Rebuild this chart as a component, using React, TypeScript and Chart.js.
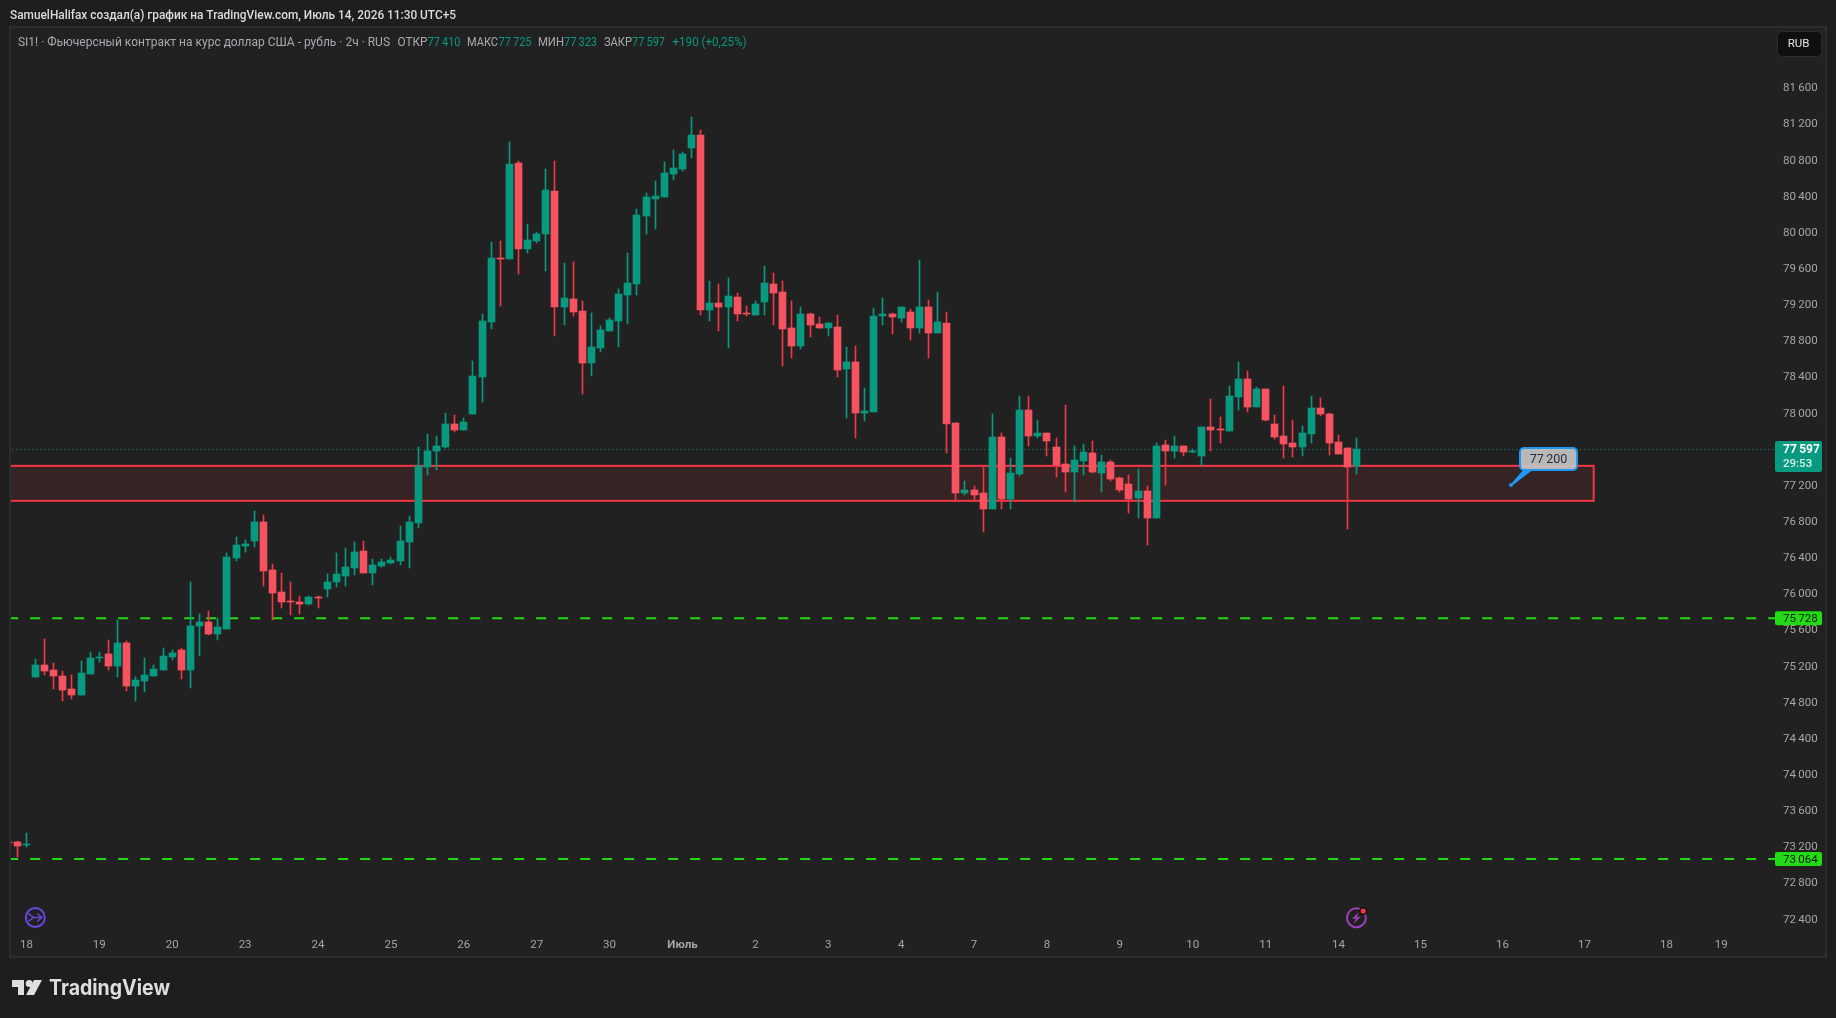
import React, { useEffect, useRef } from "react";
import { Chart, registerables } from "chart.js";

Chart.register(...registerables);

const opens = [73250,73252,73220,75078,75211,75155,75089,74945,74879,75111,75288,75332,75200,75454,74978,75034,75089,75155,75299,75377,75155,75642,75686,75554,75609,76395,76528,76583,76793,76262,76018,75919,75908,75886,75963,76052,76129,76196,76284,76472,76229,76306,76339,76362,76572,76782,77402,77579,77624,77878,77812,77989,78398,79007,79715,79704,80767,79815,79904,79981,80457,79173,79262,79129,78553,78719,78907,79018,79306,79428,80180,80368,80390,80645,80700,80933,81077,79140,79217,79173,79284,79107,79085,79229,79428,79339,78941,78742,79096,78985,78941,78952,78487,78564,78000,78011,79074,79096,79051,79118,78941,79173,78885,78996,77889,77115,77148,77115,76938,77734,77048,77325,78033,77746,77779,77624,77436,77347,77469,77557,77336,77458,77281,77214,77059,77137,76838,77646,77580,77635,77568,77524,77845,77823,77801,78177,78376,78067,78266,77878,77746,77668,77624,77768,78055,77989,77679,77613,77410];
const highs = [73252,73263,73348,75277,75498,75233,75144,75100,75255,75354,75354,75487,75709,75476,75078,75288,75211,75399,75377,75399,76129,75775,75808,75731,76450,76627,76594,76915,76871,76328,76229,76129,75974,75974,75974,76218,76450,76505,76572,76583,76384,76384,76406,76749,76860,77624,77768,77745,78000,77978,77945,78575,79096,79892,79904,80999,80789,80092,80003,80700,80789,79660,79671,79240,79107,78963,79051,79372,79771,80258,80435,80568,80778,80911,80889,81276,81132,79461,79428,79494,79328,79184,79240,79627,79549,79461,79240,79173,79107,79063,78996,79085,78730,78742,78277,79162,79273,79107,79173,79151,79693,79251,79339,79118,77889,77248,77192,77402,77989,77779,77502,78188,78188,77923,77779,77723,78089,77635,77657,77690,77535,77480,77292,77314,77380,77192,77668,77701,77746,77635,77602,77845,78155,77956,78299,78565,78465,78288,78266,77978,78299,77923,77856,78188,78166,78000,77757,77613,77725];
const lows = [73243,73090,73193,75078,75100,74945,74812,74834,74879,75111,75244,75155,75078,74923,74812,74912,75089,75155,75266,75056,74956,75310,75543,75487,75609,76362,76461,76517,76085,75709,75841,75764,75775,75875,75841,75963,76074,76085,76207,76229,76096,76295,76328,76317,76284,76727,77314,77369,77613,77790,77812,77989,78122,78930,79184,79704,79538,79771,79881,79572,78852,78974,79074,78210,78409,78675,78907,78730,78985,79306,79981,80036,80390,80579,80678,80822,79085,79018,78907,78719,79018,79074,79085,79085,78974,78520,78609,78708,78841,78941,78852,78398,77945,77723,77912,78011,78974,78874,79007,78808,78885,78609,78885,77557,77026,77093,77026,76683,76938,76938,76938,77303,77635,77723,77524,77292,77126,77015,77314,77336,77126,77248,77126,76893,76838,76539,76838,77203,77502,77524,77557,77425,77580,77668,77801,78033,78011,78067,77912,77712,77502,77513,77524,77668,77967,77535,77546,76716,77323];
const closes = [73245,73208,73226,75211,75144,75089,74934,74879,75122,75288,75299,75200,75454,74978,75045,75100,75166,75310,75343,75155,75642,75686,75554,75631,76406,76539,76550,76793,76251,76007,75908,75908,75886,75963,75952,76129,76218,76295,76461,76229,76317,76350,76373,76583,76793,77414,77579,77635,77878,77812,77900,78409,79018,79715,79704,80756,79815,79915,79981,80468,79173,79273,79118,78553,78730,78919,79029,79317,79439,80191,80390,80402,80656,80711,80866,81077,79140,79217,79173,79295,79096,79096,79206,79439,79328,78930,78742,79096,78974,78941,78996,78476,78564,78000,78022,79074,79096,79063,79173,78941,79173,78885,79007,77878,77115,77148,77093,76938,77734,77048,77336,78033,77746,77779,77690,77425,77347,77480,77568,77347,77458,77270,77148,77048,77137,76838,77635,77580,77635,77568,77580,77845,77812,77812,78188,78376,78067,78266,77923,77734,77657,77624,77779,78055,77989,77668,77546,77407,77597];

const yTickValues = [72400,72800,73200,73600,74000,74400,74800,75200,75600,76000,76400,76800,77200,77600,78000,78400,78800,79200,79600,80000,80400,80800,81200,81600];
const xTickLabels = ["18","19","20","23","24","25","26","27","30","Июль","2","3","4","7","8","9","10","11","14","15","16","17","18","19"];
const xTickIndexes = [2,10,18,26,34,42,50,58,66,74,82,90,98,106,114,122,130,138,146,155,164,173,182,188];

const lastPrice = 77597;
const supportLevels = [75728, 73064];
const zoneTop = 77415;
const zoneBottom = 77028;
const zoneEndIndex = 174;
const calloutPrice = 77200;

const GREEN = "#089981";
const RED = "#f7525f";
const WICK_RED = "#f23645";
const LEVEL = "#22dc13";
const FONT = "Roboto, sans-serif";

const fmt = (v: number) => {
  const s = String(v);
  return s.slice(0, s.length - 3) + "\u2009" + s.slice(-3);
};

const candleColors = (up: string, down: string) => closes.map((c, i) => (c >= opens[i] ? up : down));

const pagePlugin = {
  id: "page",
  beforeDraw(chart: any) {
    const { ctx, width, height } = chart;
    ctx.save();
    ctx.fillStyle = "#1e1e1e";
    ctx.fillRect(0, 0, width, height);
    ctx.fillStyle = "#212121";
    ctx.fillRect(10, 27, 1816, 930);
    ctx.strokeStyle = "#2c2c2c";
    ctx.lineWidth = 2;
    ctx.strokeRect(10, 27, 1816, 930);
    ctx.restore();
  },
};

const snapPlugin = {
  id: "snap",
  afterDatasetsUpdate(chart: any) {
    chart.data.datasets.forEach((d: any, di: number) => {
      if (d.type !== "bar") return;
      chart.getDatasetMeta(di).data.forEach((el: any) => {
        el.x = Math.floor(el.x) + 0.5;
        el.y = Math.round(el.y);
        el.base = Math.round(el.base);
      });
    });
  },
};

const zonePlugin = {
  id: "zone",
  beforeDatasetsDraw(chart: any) {
    const { ctx, chartArea, scales } = chart;
    const top = scales.y.getPixelForValue(zoneTop);
    const bottom = scales.y.getPixelForValue(zoneBottom);
    const right = scales.x.getPixelForValue(zoneEndIndex);
    ctx.save();
    ctx.beginPath();
    ctx.rect(chartArea.left, chartArea.top, chartArea.width, chartArea.height);
    ctx.clip();
    ctx.fillStyle = "rgba(242,54,69,0.1)";
    ctx.fillRect(chartArea.left - 4, top, right - chartArea.left + 4, bottom - top);
    ctx.strokeStyle = WICK_RED;
    ctx.lineWidth = 2;
    ctx.strokeRect(chartArea.left - 4, top, right - chartArea.left + 4, bottom - top);
    ctx.restore();
  },
};

function priceTag(ctx: any, y: number, text: string) {
  ctx.fillStyle = LEVEL;
  ctx.beginPath();
  ctx.roundRect(1775, y - 7, 47, 14, 2);
  ctx.fill();
  ctx.fillStyle = "#111111";
  ctx.font = `400 11.5px ${FONT}`;
  ctx.textAlign = "left";
  ctx.textBaseline = "middle";
  ctx.fillText(text, 1783, y + 1);
}

const overlayPlugin = {
  id: "overlay",
  afterDraw(chart: any) {
    const { ctx, scales } = chart;
    ctx.save();
    ctx.textBaseline = "middle";
    ctx.textAlign = "left";

    // header
    ctx.fillStyle = "#dcdcdc";
    ctx.font = `500 12px ${FONT}`;
    ctx.fillText("SamuelHalifax создал(а) график на TradingView.com, Июль 14, 2026 11:30 UTC+5", 10, 15.5, 446);

    // legend
    ctx.font = `400 12px ${FONT}`;
    const gray = "#a9abb2";
    const parts: [string, number, string, number][] = [
      ["SI1! · Фьючерсный контракт на курс доллар США - рубль · 2ч · RUS", 18, gray, 372],
      ["ОТКР", 397.5, gray, 30],
      ["77\u2009410", 427.5, GREEN, 33],
      ["МАКС", 467, gray, 31],
      ["77\u2009725", 498.5, GREEN, 33],
      ["МИН", 538, gray, 26],
      ["77\u2009323", 564, GREEN, 33],
      ["ЗАКР", 604, gray, 28],
      ["77\u2009597", 632, GREEN, 33],
      ["+190 (+0,25%)", 672.5, GREEN, 74],
    ];
    parts.forEach(([t, x, c, w]) => {
      ctx.fillStyle = c;
      ctx.fillText(t, x, 42.5, w);
    });

    // currency button
    ctx.fillStyle = "#0f0f0f";
    ctx.strokeStyle = "#2e2e2e";
    ctx.lineWidth = 1;
    ctx.beginPath();
    ctx.roundRect(1777.5, 31.5, 44, 25, 4);
    ctx.fill();
    ctx.stroke();
    ctx.fillStyle = "#e6e6e6";
    ctx.textAlign = "center";
    ctx.font = `400 11.5px ${FONT}`;
    ctx.fillText("RUB", 1798.5, 44.5);
    ctx.textAlign = "left";

    // last price tag
    const py = scales.y.getPixelForValue(lastPrice);
    ctx.fillStyle = GREEN;
    ctx.beginPath();
    ctx.roundRect(1775, py - 8.5, 47, 31, 2);
    ctx.fill();
    ctx.fillStyle = "#ffffff";
    ctx.font = `700 12px ${FONT}`;
    ctx.fillText(fmt(lastPrice), 1783, py + 1);
    ctx.fillStyle = "#d5efe9";
    ctx.font = `500 11.5px ${FONT}`;
    ctx.fillText("29:53", 1783, py + 14.5);

    supportLevels.forEach((v) => priceTag(ctx, scales.y.getPixelForValue(v), fmt(v)));

    // callout
    const boxL = 1520, boxT = 448, boxW = 57, boxH = 22;
    const tipX = 1511, tipY = 485;
    ctx.fillStyle = "#2196f3";
    ctx.beginPath();
    ctx.moveTo(boxL + 4, boxT + boxH - 1);
    ctx.lineTo(boxL + 14, boxT + boxH - 1);
    ctx.lineTo(tipX + 2, tipY);
    ctx.lineTo(tipX, tipY - 1);
    ctx.closePath();
    ctx.fill();
    ctx.beginPath();
    ctx.arc(tipX, tipY, 2, 0, Math.PI * 2);
    ctx.fill();
    ctx.fillStyle = "rgba(198,198,198,0.92)";
    ctx.strokeStyle = "#2196f3";
    ctx.lineWidth = 2;
    ctx.beginPath();
    ctx.roundRect(boxL, boxT, boxW, boxH, 4);
    ctx.fill();
    ctx.stroke();
    ctx.fillStyle = "#2a2e39";
    ctx.textAlign = "center";
    ctx.font = `400 12.5px ${FONT}`;
    ctx.fillText(fmt(calloutPrice), boxL + boxW / 2, boxT + boxH / 2 + 0.5);
    ctx.textAlign = "left";

    // event marks
    const ix = 35.3, iy = 917.5;
    ctx.strokeStyle = "#6a45e0";
    ctx.lineWidth = 2;
    ctx.beginPath();
    ctx.arc(ix, iy, 9.5, 0, Math.PI * 2);
    ctx.stroke();
    ctx.lineWidth = 1.5;
    ctx.beginPath();
    ctx.moveTo(ix - 7, iy - 4);
    ctx.lineTo(ix - 2, iy);
    ctx.lineTo(ix - 7, iy + 4);
    ctx.moveTo(ix - 2, iy);
    ctx.lineTo(ix + 7, iy);
    ctx.moveTo(ix + 2, iy - 4);
    ctx.lineTo(ix + 6.5, iy);
    ctx.lineTo(ix + 2, iy + 4);
    ctx.stroke();

    const jx = 1356.4, jy = 917.8;
    ctx.strokeStyle = "#9b3fb5";
    ctx.lineWidth = 2;
    ctx.beginPath();
    ctx.arc(jx, jy, 9.5, 0, Math.PI * 2);
    ctx.stroke();
    ctx.fillStyle = "#9b3fb5";
    ctx.beginPath();
    ctx.moveTo(jx + 3, jy - 6);
    ctx.lineTo(jx - 4.5, jy + 1);
    ctx.lineTo(jx - 0.5, jy + 1);
    ctx.lineTo(jx - 3, jy + 6);
    ctx.lineTo(jx + 4.5, jy - 1);
    ctx.lineTo(jx + 0.5, jy - 1);
    ctx.closePath();
    ctx.fill();
    ctx.fillStyle = "#111111";
    ctx.beginPath();
    ctx.arc(jx + 6.8, jy - 6.8, 4, 0, Math.PI * 2);
    ctx.fill();
    ctx.fillStyle = "#f23645";
    ctx.beginPath();
    ctx.arc(jx + 6.8, jy - 6.8, 2.6, 0, Math.PI * 2);
    ctx.fill();

    // logo
    ctx.fillStyle = "#dedede";
    ctx.fillRect(12, 980, 12, 7);
    ctx.fillRect(18, 980, 6, 15);
    ctx.beginPath();
    ctx.arc(29.2, 983.5, 3.5, 0, Math.PI * 2);
    ctx.fill();
    ctx.beginPath();
    ctx.moveTo(34, 980);
    ctx.lineTo(42, 980);
    ctx.lineTo(34, 995);
    ctx.lineTo(26, 995);
    ctx.closePath();
    ctx.fill();
    ctx.font = `700 21px Inter, ${FONT}`;
    ctx.fillText("TradingView", 49, 989, 121);

    ctx.restore();
  },
};

export default function App() {
  const ref = useRef<HTMLCanvasElement>(null);

  useEffect(() => {
    const idx = closes.map((_, i) => i);
    const chart = new Chart(ref.current as HTMLCanvasElement, {
      type: "bar",
      data: {
        datasets: [
          ...supportLevels.map((v) => ({
            type: "line" as const,
            data: [{ x: 0, y: v }, { x: 194, y: v }],
            borderColor: LEVEL,
            borderWidth: 2,
            borderDash: [10, 12],
            pointRadius: 0,
            order: 4,
          })),
          {
            type: "line" as const,
            data: [{ x: 0, y: lastPrice }, { x: 194, y: lastPrice }],
            borderColor: GREEN,
            borderWidth: 1,
            borderDash: [1, 3],
            pointRadius: 0,
            order: 4,
          },
          {
            type: "bar" as const,
            data: idx.map((i) => ({ x: i, y: [lows[i], highs[i]] })),
            backgroundColor: candleColors(GREEN, WICK_RED),
            barThickness: 1,
            grouped: false,
            order: 2,
          },
          {
            type: "bar" as const,
            data: idx.map((i) => ({ x: i, y: [opens[i], closes[i]] })),
            backgroundColor: candleColors(GREEN, RED),
            barThickness: 7,
            minBarLength: 1,
            grouped: false,
            order: 1,
          },
        ],
      } as any,
      options: {
        responsive: false,
        animation: false,
        devicePixelRatio: 1,
        events: [],
        layout: { padding: { left: 11, top: 28, right: 0, bottom: 0 } },
        plugins: { legend: { display: false }, tooltip: { enabled: false }, title: { display: false } },
        scales: {
          x: {
            type: "linear",
            offset: false,
            min: 0.307,
            max: 193.9,
            grid: { display: false, drawTicks: false },
            border: { display: false },
            afterBuildTicks: (s: any) => { s.ticks = xTickIndexes.map((value) => ({ value })); },
            afterFit: (s: any) => { s.height = 88; },
            ticks: {
              autoSkip: false,
              maxRotation: 0,
              padding: 8,
              color: "#a6a6a6",
              font: (c: any) => ({
                family: FONT,
                size: 11.5,
                weight: xTickLabels[c.index] === "Июль" ? "700" : "400",
              }),
              callback: (v: any) => xTickLabels[xTickIndexes.indexOf(Number(v))],
            },
          },
          y: {
            position: "right",
            min: 72278,
            max: 82261,
            grid: { display: false, drawTicks: false },
            border: { display: false },
            afterBuildTicks: (s: any) => { s.ticks = yTickValues.map((value) => ({ value })); },
            afterFit: (s: any) => { s.width = 61; },
            ticks: {
              padding: 8,
              color: "#a6a6a6",
              crossAlign: "near",
              labelOffset: 0.7,
              font: { family: FONT, size: 11.5 },
              callback: (v: any) => fmt(Number(v)),
            },
          },
        },
      } as any,
      plugins: [pagePlugin, snapPlugin, zonePlugin, overlayPlugin],
    });
    return () => chart.destroy();
  }, []);

  return (
    <div style={{ position: "absolute", left: 0, top: 0, width: 1836, height: 1018, overflow: "hidden" }}>
      <canvas ref={ref} width={1836} height={1018} style={{ display: "block", width: 1836, height: 1018 }} />
    </div>
  );
}
